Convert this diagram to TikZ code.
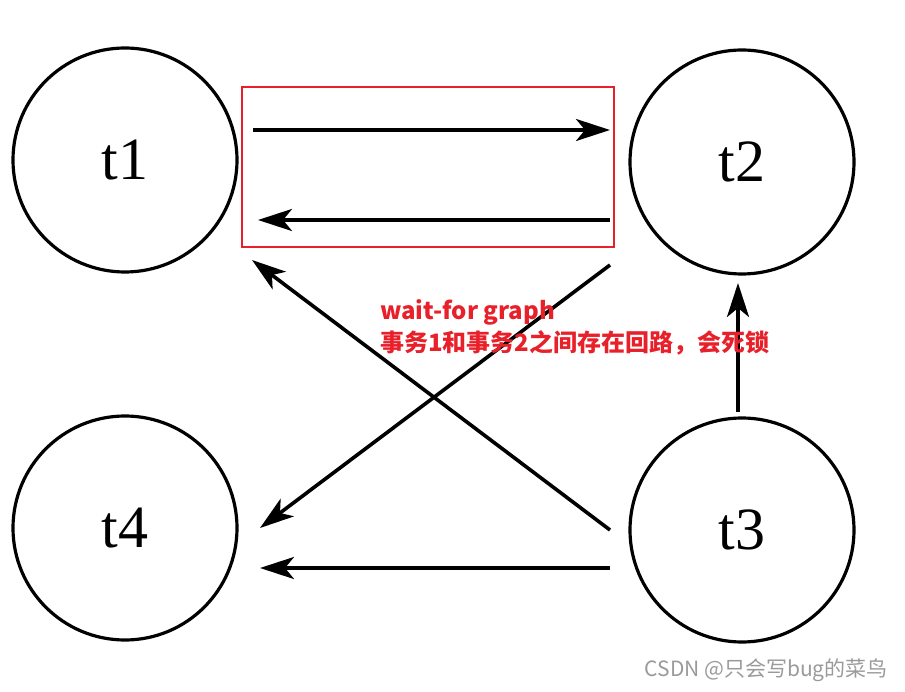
\documentclass[tikz,border=0pt]{standalone}
\usepackage{fontspec}
\setmainfont{Liberation Serif}
\newfontfamily\cjk{Noto Sans CJK SC}
\usetikzlibrary{arrows.meta}
\definecolor{notered}{HTML}{E8202A}
\definecolor{markgray}{HTML}{9A9A9A}
\tikzset{>={Stealth[length=34pt,width=22pt,inset=9pt]}}
\tikzset{
    txn/.style={draw, circle, line width=3.2pt, minimum size=224pt, inner sep=0pt,
        font=\fontsize{60}{60}\selectfont},
    wfe/.style={->, line width=3.6pt},
}

\begin{document}
\begin{tikzpicture}[x=1pt, y=-1pt]
    \useasboundingbox (0,0) rectangle (905,692);
    % transactions
    \node[txn] (t1) at (125,160) {t1};
    \node[txn] (t2) at (742,162) {t2};
    \node[txn] (t4) at (125,528) {t4};
    \node[txn] (t3) at (742,530) {t3};
    % cycle between t1 and t2
    \draw[notered, line width=2pt] (242,87) rectangle (614,247);
    \draw[wfe] ([shift={(128,-30)}]t1.center) -- ([shift={(-132,-32)}]t2.center);
    \draw[wfe] ([shift={(-132,58)}]t2.center) -- ([shift={(133,60)}]t1.center);
    % other waits
    \draw[wfe] ([shift={(-132,103)}]t2.center) -- ([shift={(135,0)}]t4.center);
    \draw[wfe] ([shift={(-132,0)}]t3.center) -- ([shift={(127,100)}]t1.center);
    \draw[wfe] ([shift={(-132,38)}]t3.center) -- ([shift={(135,40)}]t4.center);
    \draw[wfe] ([shift={(-4,-118)}]t3.center) -- ([shift={(-4,121)}]t2.center);
    % note
    \node[anchor=base west, inner sep=0pt, text=notered,
        font=\cjk\bfseries\fontsize{24}{24}\selectfont] (note1) at (380,320) {wait-for graph};
    \node[anchor=base west, inner sep=0pt, text=notered,
        font=\cjk\bfseries\fontsize{24}{24}\selectfont] (note2) at (380,352) {事务1和事务2之间存在回路，会死锁};
    \node[anchor=base east, inner sep=0pt, text=markgray,
        font=\cjk\fontsize{21}{21}\selectfont] (mark) at (888,676) {CSDN @只会写bug的菜鸟};
\end{tikzpicture}
\end{document}
